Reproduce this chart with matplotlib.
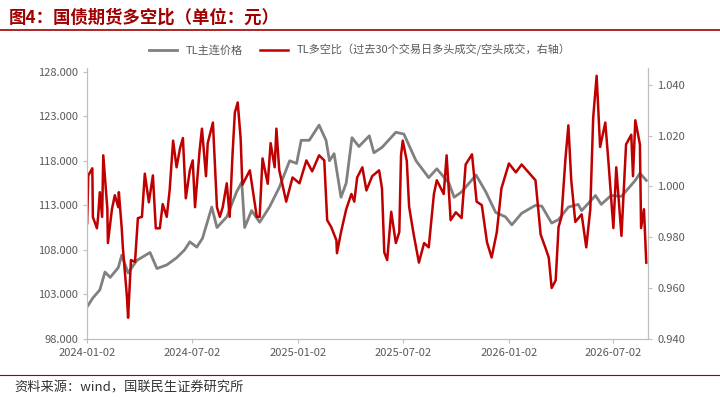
import matplotlib
matplotlib.use("Agg")
import matplotlib.pyplot as plt
import matplotlib.dates as mdates
import pandas as pd

plt.rcParams['font.family'] = ['Noto Sans CJK SC', 'DejaVu Sans']

START = pd.Timestamp("2024-01-02")

# TL price (left axis): day offset from 2024-01-02, value
tl_days = [0, 10, 22, 31, 40, 54, 60, 71, 86, 109, 121, 138, 155, 169, 178, 190, 200, 216, 225,
           242, 259, 268, 273, 285, 299, 316, 333, 351, 363, 371, 385, 402, 414, 420, 428, 440,
           449, 459, 471, 489, 497, 511, 535, 549, 570, 592, 606, 627, 636, 649, 674, 691, 708,
           725, 736, 753, 777, 788, 805, 817, 834, 851, 857, 881, 891, 908, 926, 938, 950, 958, 969]
tl_price = [101.6, 102.6, 103.5, 105.5, 104.9, 106.0, 107.4, 105.4, 106.8, 107.7, 105.9, 106.3,
            107.1, 108.0, 108.9, 108.3, 109.3, 112.8, 110.5, 111.7, 114.5, 115.6, 110.5, 112.4,
            111.1, 112.8, 115.0, 118.0, 117.7, 120.3, 120.3, 122.0, 120.3, 118.0, 118.8, 113.9,
            115.5, 120.6, 119.6, 120.8, 118.9, 119.5, 121.2, 121.0, 118.0, 116.1, 117.1, 115.5,
            113.9, 114.5, 116.4, 114.5, 112.2, 111.7, 110.8, 112.1, 113.0, 112.9, 111.0, 111.4,
            112.8, 113.1, 112.4, 114.1, 113.1, 114.1, 114.0, 114.9, 115.8, 116.6, 115.8]

# TL long/short ratio (right axis)
ls_days = [0, 2, 9, 10, 17, 19, 22, 26, 28, 35, 36, 43, 48, 54, 55, 60, 62, 69, 71, 76, 83, 88,
           95, 100, 107, 114, 119, 126, 131, 138, 143, 149, 155, 161, 166, 171, 178, 183, 187,
           195, 199, 206, 209, 218, 225, 230, 235, 242, 247, 252, 256, 261, 266, 269, 282, 294,
           299, 304, 313, 318, 325, 328, 333, 345, 356, 368, 380, 390, 402, 411, 416, 423, 432,
           433, 440, 449, 458, 463, 468, 477, 484, 494, 506, 511, 515, 520, 527, 535, 541, 544,
           547, 554, 558, 566, 575, 584, 592, 601, 606, 618, 623, 630, 639, 649, 656, 667, 675,
           684, 693, 701, 710, 718, 731, 743, 753, 765, 777, 786, 794, 800, 805, 812, 817, 822,
           829, 834, 839, 846, 857, 865, 872, 877, 883, 889, 898, 903, 912, 917, 926, 934, 943,
           946, 950, 958, 960, 965, 969]
ls_ratio = [0.9855, 1.0043, 1.0071, 0.9879, 0.9835, 0.9879, 0.9977, 0.9880, 1.0122, 0.9914,
            0.9777, 0.9910, 0.9965, 0.9918, 0.9977, 0.9835, 0.9757, 0.9565, 0.9483, 0.9710,
            0.9703, 0.9875, 0.9880, 1.0050, 0.9937, 1.0043, 0.9835, 0.9835, 0.9930, 0.9880,
            0.9984, 1.0180, 1.0075, 1.0150, 1.0190, 0.9953, 1.0063, 1.0102, 0.9918, 1.0143,
            1.0227, 1.0040, 1.0170, 1.0251, 0.9918, 0.9880, 0.9918, 1.0012, 0.9880, 1.0126,
            1.0290, 1.0330, 1.0190, 1.0006, 1.0063, 0.9880, 0.9880, 1.0110, 1.0010, 1.0170,
            1.0075, 1.0227, 1.0063, 0.9940, 1.0035, 1.0012, 1.0102, 1.0059, 1.0122, 1.0102,
            0.9867, 0.9840, 0.9788, 0.9737, 0.9820, 0.9910, 0.9970, 0.9940, 1.0035, 1.0075,
            0.9984, 1.0040, 1.0063, 0.9992, 0.9740, 0.9710, 0.9900, 0.9777, 0.9820, 1.0122,
            1.0180, 1.0100, 0.9920, 0.9810, 0.9700, 0.9777, 0.9760, 0.9970, 1.0024, 0.9970,
            1.0122, 0.9867, 0.9898, 0.9875, 1.0086, 1.0126, 0.9940, 0.9926, 0.9780, 0.9720,
            0.9820, 0.9992, 1.0090, 1.0055, 1.0086, 1.0055, 1.0024, 0.9810, 0.9760, 0.9720,
            0.9600, 0.9630, 0.9840, 0.9880, 1.0110, 1.0240, 1.0024, 0.9860, 0.9890, 0.9760,
            0.9910, 1.0270, 1.0435, 1.0155, 1.0251, 1.0110, 0.9836, 1.0075, 0.9805, 1.0165,
            1.0203, 1.0040, 1.0260, 1.0165, 0.9836, 0.9910, 0.9700]

tick_labels = ["2024-01-02", "2024-07-02", "2025-01-02", "2025-07-02", "2026-01-02", "2026-07-02"]

tl_dates = START + pd.to_timedelta(tl_days, unit="D")
ls_dates = START + pd.to_timedelta(ls_days, unit="D")

GRAY = "#808080"
RED = "#C00000"
TXT = "#595959"

fig = plt.figure(figsize=(7.2, 4.01), dpi=100)
ax = fig.add_axes([0.121, 0.155, 0.779, 0.675])
ax2 = ax.twinx()

l1, = ax.plot(tl_dates, tl_price, color=GRAY, lw=2.0, label="TL主连价格")
l2, = ax2.plot(ls_dates, ls_ratio, color=RED, lw=1.8,
               label="TL多空比（过去30个交易日多头成交/空头成交，右轴）")

ax.set_ylim(98, 128.4)
ax.set_yticks([98, 103, 108, 113, 118, 123, 128])
ax.yaxis.set_major_formatter(matplotlib.ticker.FormatStrFormatter("%.3f"))
ax2.set_ylim(0.94, 1.0465)
ax2.set_yticks([0.94, 0.96, 0.98, 1.00, 1.02, 1.04])
ax2.yaxis.set_major_formatter(matplotlib.ticker.FormatStrFormatter("%.3f"))

ticks = pd.to_datetime(tick_labels)
ax.set_xticks(ticks)
ax.set_xticklabels(tick_labels)
ax.set_xlim(START, START + pd.Timedelta(days=972))

for a in (ax, ax2):
    a.spines["top"].set_visible(False)
    for s in ("left", "right", "bottom"):
        a.spines[s].set_color("#BFBFBF")
    a.tick_params(colors=TXT, labelsize=8, length=3, color="#BFBFBF")

fig.legend(handles=[l1, l2], loc="upper center", bbox_to_anchor=(0.5, 0.915), ncol=2,
           frameon=False, fontsize=8, labelcolor=TXT, handlelength=2.5, columnspacing=1.5)

fig.text(0.012, 0.955, "图4：国债期货多空比（单位：元）", fontsize=12.5, fontweight="bold",
         color="#A00000", va="center")
fig.add_artist(plt.Line2D([0.0, 1.0], [0.925, 0.925], color="#A00000", lw=1.2))
fig.add_artist(plt.Line2D([0.0, 1.0], [0.065, 0.065], color="#A00000", lw=0.8))
fig.text(0.02, 0.033, "资料来源：wind，国联民生证券研究所", fontsize=9.5, color="#333333", va="center")

fig.savefig("out.png", dpi=100)
